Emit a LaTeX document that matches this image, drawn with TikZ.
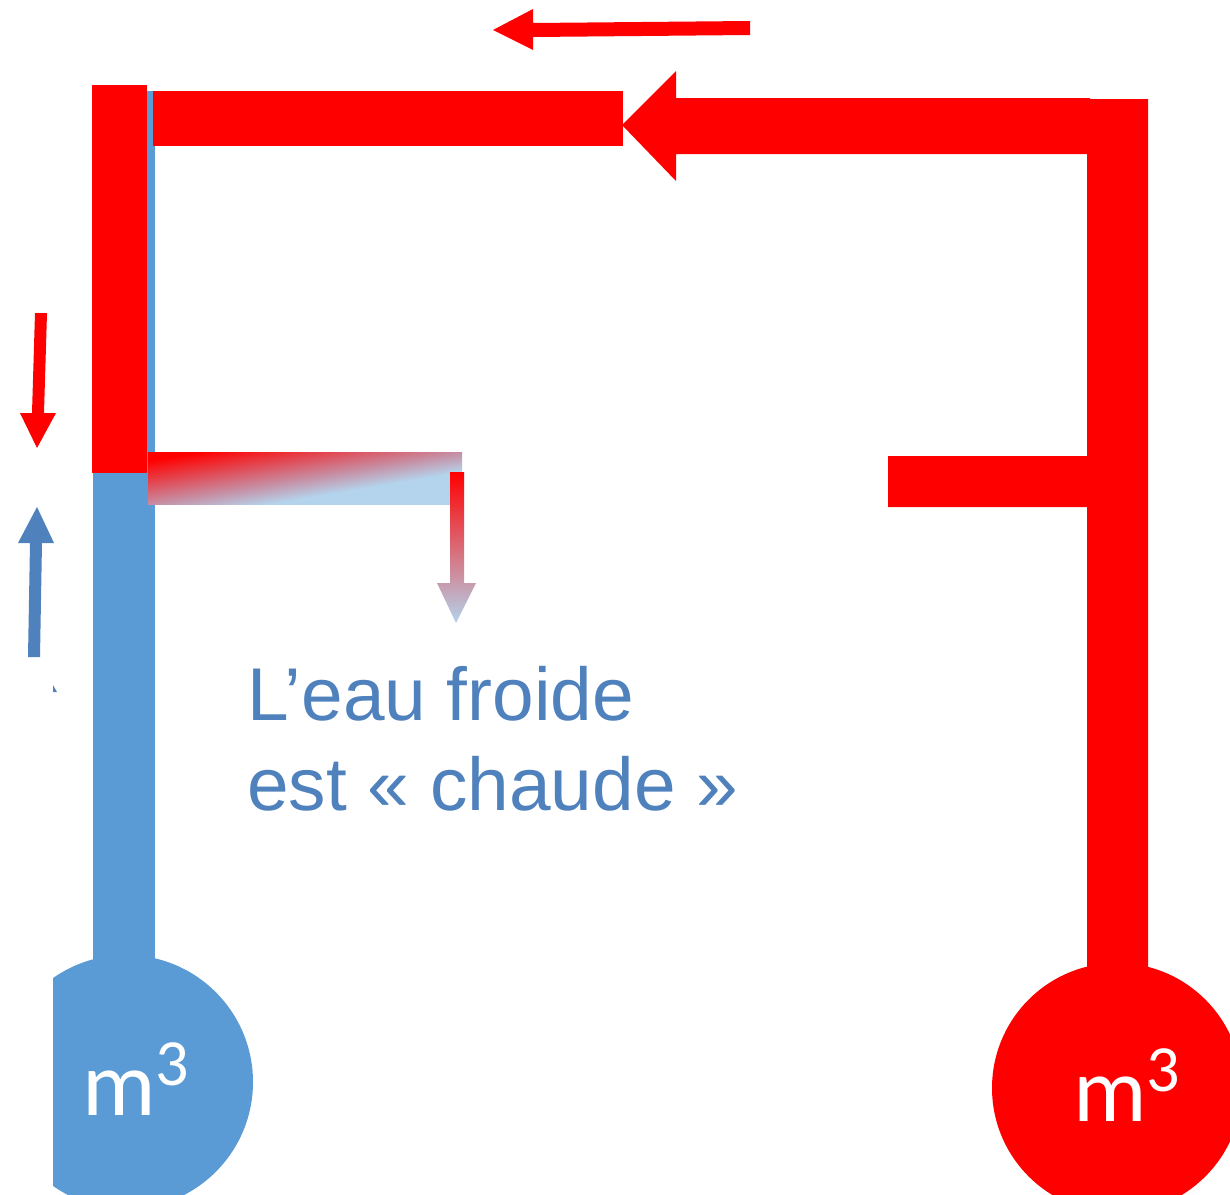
\documentclass[tikz,border=0pt]{standalone}
\usepackage{fontspec}
\setmainfont{Liberation Sans}
\newfontfamily\calib{Carlito}
\definecolor{pipeblue}{HTML}{5B9BD5}
\definecolor{inkblue}{HTML}{4F81BD}
\definecolor{pipered}{HTML}{FF0000}
\definecolor{paleblue}{HTML}{B4D3EC}
\definecolor{mauve}{HTML}{C78DA2}
\pgfdeclareverticalshading{mixshade}{100bp}{color(0bp)=(paleblue); color(25bp)=(paleblue); color(39bp)=(paleblue); color(50bp)=(mauve); color(74bp)=(pipered); color(100bp)=(pipered)}
\tikzset{
  redfill/.style={fill=pipered,draw=none},
  bluefill/.style={fill=pipeblue,draw=none},
  inkfill/.style={fill=inkblue,draw=none},
  mixbar/.style={draw=none,shading=mixshade,shading angle=9.5},
  mixarrow/.style={draw=none,shading=axis,top color=pipered,middle color=mauve,bottom color=paleblue},
  unitlabel/.style={text=white,inner sep=0pt,anchor=base west,font=\calib\fontsize{46}{50}\selectfont},
  notelabel/.style={text=inkblue,inner sep=0pt,anchor=base west,font=\fontsize{37.4}{45}\selectfont}
}
\newcommand{\cubeunit}{m\raisebox{15pt}{\fontsize{33}{33}\selectfont 3}}
\begin{document}
\begin{tikzpicture}[x=0.5pt,y=-0.5pt]
\useasboundingbox (0,0) rectangle (1230,1194);
\begin{scope}
\clip (0,0) rectangle (1230,1194);
% blue column and tank
\fill[bluefill] (93,473) rectangle (155,970);
\fill[bluefill] (147,91) rectangle (155,473);
\begin{scope}
\clip (53,900) rectangle (300,1194);
\fill[bluefill] (126,1082) circle[radius=127];
\end{scope}
% red pipe with its arrowhead, and tank
\fill[redfill] (622,125) -- (676,71) -- (676,98) -- (1090,98) -- (1090,99) -- (1148,99) -- (1148,980) -- (1087,980)
  -- (1087,507) -- (888,507) -- (888,456) -- (1087,456) -- (1087,154) -- (676,154) -- (676,181) -- cycle;
\fill[redfill] (1117,1088) circle[radius=125];
% red segments, top left
\fill[redfill] (153,91) rectangle (623,146);
\fill[redfill] (92,85) rectangle (147,473);
% mixed branch
\path[mixbar] (148,452) rectangle (462,504);
\path[mixarrow] (450,472) -- (464,472) -- (464,583) -- (476,583) -- (456,623) -- (437,583) -- (450,583) -- cycle;
% flow arrows
\fill[redfill] (750,21) -- (533,23) -- (533,9) -- (493,30) -- (533,50) -- (533,37) -- (750,35) -- cycle;
\fill[redfill] (35,313) -- (47,313) -- (44,413) -- (56,413) -- (37,448) -- (20,413) -- (32,413) -- cycle;
\fill[inkfill] (37,507) -- (54,543) -- (42,543) -- (40,657) -- (28,657) -- (30,543) -- (18,543) -- cycle;
\fill[inkfill] (53,685) -- (57,692) -- (53,692) -- cycle;
\end{scope}
% labels
\node[unitlabel] (unitcold) at (82,1115) {\cubeunit};
\node[unitlabel] (unithot) at (1073,1121) {\cubeunit};
\node[notelabel] (noteone) at (247,720) {L’eau froide};
\node[notelabel] (notetwo) at (247,810) {est « chaude »};
\end{tikzpicture}
\end{document}
